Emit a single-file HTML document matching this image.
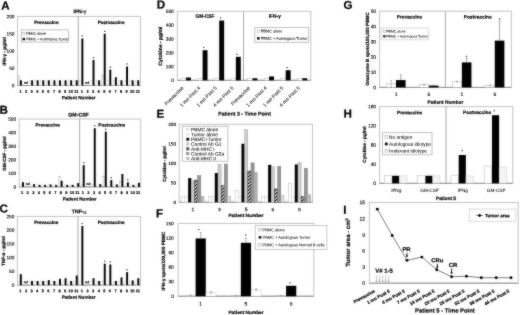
<!DOCTYPE html>
<html lang="en"><head><meta charset="utf-8"><title>Figure</title>
<style>
html,body{margin:0;padding:0;background:#fff;overflow:hidden}
svg{display:block;font-family:"Liberation Sans", sans-serif;text-rendering:geometricPrecision}
</style></head>
<body>
<svg width="520" height="315" viewBox="0 0 520 315">
<defs>
<filter id="soft" x="0" y="0" width="520" height="315" filterUnits="userSpaceOnUse" color-interpolation-filters="sRGB"><feGaussianBlur stdDeviation="0.8" result="b"/><feComposite in="SourceGraphic" in2="b" operator="arithmetic" k1="0" k2="0.62" k3="0.38" k4="0"/></filter>
<pattern id="hat" width="2.4" height="2.4" patternUnits="userSpaceOnUse" patternTransform="rotate(-45)">
<rect width="2.4" height="2.4" fill="#fff"/><rect width="2.4" height="1.2" fill="#000"/></pattern>
<pattern id="vh" width="1.1" height="1.1" patternUnits="userSpaceOnUse">
<rect width="1.1" height="1.1" fill="#e6e6e6"/><rect width="0.45" height="1.1" fill="#9a9a9a"/></pattern>
</defs>
<g filter="url(#soft)">
<rect width="520" height="315" fill="#fff"/>
<text transform="translate(1.2 9.48) rotate(0.03)" font-size="11.6" font-weight="bold" fill="#000" stroke="#000" stroke-width="0.25">A</text>
<rect x="17.5" y="16.4" width="122.9" height="69.1" fill="none" stroke="#c4c4c4" stroke-width="1"/>
<line x1="17.5" y1="85.5" x2="140.4" y2="85.5" stroke="#909090" stroke-width="1"/>
<line x1="78.25" y1="16.4" x2="78.25" y2="85.5" stroke="#a8a8a8" stroke-width="1"/>
<text transform="translate(14.5 87.23) rotate(0.03)" font-size="4.8" text-anchor="end" fill="#000" stroke="#000" stroke-width="0.13">0</text>
<text transform="translate(14.5 69.95) rotate(0.03)" font-size="4.8" text-anchor="end" fill="#000" stroke="#000" stroke-width="0.13">50</text>
<text transform="translate(14.5 52.68) rotate(0.03)" font-size="4.8" text-anchor="end" fill="#000" stroke="#000" stroke-width="0.13">100</text>
<text transform="translate(14.5 35.4) rotate(0.03)" font-size="4.8" text-anchor="end" fill="#000" stroke="#000" stroke-width="0.13">150</text>
<text transform="translate(14.5 18.13) rotate(0.03)" font-size="4.8" text-anchor="end" fill="#000" stroke="#000" stroke-width="0.13">200</text>
<text transform="translate(20.49 92.7) rotate(0.03)" font-size="3.9" text-anchor="middle" font-weight="bold" fill="#000" stroke="#000" stroke-width="0.2">1</text>
<rect x="18.1" y="75.83" width="1.7" height="9.67" fill="#fff" stroke="#b0b0b0" stroke-width="0.5"/>
<rect x="19.93" y="80.32" width="1.95" height="5.18" fill="#000"/>
<text transform="translate(26.08 92.7) rotate(0.03)" font-size="3.9" text-anchor="middle" font-weight="bold" fill="#000" stroke="#000" stroke-width="0.2">2</text>
<text transform="translate(25.83 83.65) rotate(0.03)" font-size="3.2" text-anchor="middle" font-weight="bold" fill="#000" stroke="#000" stroke-width="0.2">nd</text>
<text transform="translate(31.67 92.7) rotate(0.03)" font-size="3.9" text-anchor="middle" font-weight="bold" fill="#000" stroke="#000" stroke-width="0.2">3</text>
<rect x="29.27" y="80.32" width="1.7" height="5.18" fill="#fff" stroke="#d4d4d4" stroke-width="0.4"/>
<rect x="31.1" y="80.32" width="1.95" height="5.18" fill="#000"/>
<text transform="translate(37.25 92.7) rotate(0.03)" font-size="3.9" text-anchor="middle" font-weight="bold" fill="#000" stroke="#000" stroke-width="0.2">4</text>
<rect x="34.86" y="80.32" width="1.7" height="5.18" fill="#fff" stroke="#d4d4d4" stroke-width="0.4"/>
<rect x="36.69" y="80.32" width="1.95" height="5.18" fill="#000"/>
<text transform="translate(42.84 92.7) rotate(0.03)" font-size="3.9" text-anchor="middle" font-weight="bold" fill="#000" stroke="#000" stroke-width="0.2">5</text>
<rect x="40.45" y="80.32" width="1.7" height="5.18" fill="#fff" stroke="#d4d4d4" stroke-width="0.4"/>
<rect x="42.28" y="80.32" width="1.95" height="5.18" fill="#000"/>
<text transform="translate(48.43 92.7) rotate(0.03)" font-size="3.9" text-anchor="middle" font-weight="bold" fill="#000" stroke="#000" stroke-width="0.2">6</text>
<rect x="46.03" y="80.32" width="1.7" height="5.18" fill="#fff" stroke="#d4d4d4" stroke-width="0.4"/>
<rect x="47.86" y="80.32" width="1.95" height="5.18" fill="#000"/>
<text transform="translate(54.01 92.7) rotate(0.03)" font-size="3.9" text-anchor="middle" font-weight="bold" fill="#000" stroke="#000" stroke-width="0.2">7</text>
<rect x="51.62" y="80.32" width="1.7" height="5.18" fill="#fff" stroke="#d4d4d4" stroke-width="0.4"/>
<rect x="53.45" y="80.32" width="1.95" height="5.18" fill="#000"/>
<text transform="translate(59.6 92.7) rotate(0.03)" font-size="3.9" text-anchor="middle" font-weight="bold" fill="#000" stroke="#000" stroke-width="0.2">8</text>
<rect x="57.2" y="80.32" width="1.7" height="5.18" fill="#fff" stroke="#d4d4d4" stroke-width="0.4"/>
<rect x="59.03" y="80.32" width="1.95" height="5.18" fill="#000"/>
<text transform="translate(65.18 92.7) rotate(0.03)" font-size="3.9" text-anchor="middle" font-weight="bold" fill="#000" stroke="#000" stroke-width="0.2">9</text>
<rect x="62.79" y="80.32" width="1.7" height="5.18" fill="#fff" stroke="#d4d4d4" stroke-width="0.4"/>
<rect x="64.62" y="80.32" width="1.95" height="5.18" fill="#000"/>
<text transform="translate(70.77 92.7) rotate(0.03)" font-size="3.9" text-anchor="middle" font-weight="bold" fill="#000" stroke="#000" stroke-width="0.2">10</text>
<rect x="68.38" y="80.32" width="1.7" height="5.18" fill="#fff" stroke="#d4d4d4" stroke-width="0.4"/>
<rect x="70.21" y="80.32" width="1.95" height="5.18" fill="#000"/>
<text transform="translate(76.36 92.7) rotate(0.03)" font-size="3.9" text-anchor="middle" font-weight="bold" fill="#000" stroke="#000" stroke-width="0.2">11</text>
<rect x="73.96" y="80.32" width="1.7" height="5.18" fill="#fff" stroke="#d4d4d4" stroke-width="0.4"/>
<rect x="75.79" y="80.32" width="1.95" height="5.18" fill="#000"/>
<text transform="translate(81.94 92.7) rotate(0.03)" font-size="3.9" text-anchor="middle" font-weight="bold" fill="#000" stroke="#000" stroke-width="0.2">1</text>
<rect x="79.55" y="80.32" width="1.7" height="5.18" fill="#fff" stroke="#d4d4d4" stroke-width="0.4"/>
<rect x="81.38" y="38.51" width="1.95" height="46.99" fill="#000"/>
<text transform="translate(82.35 38.07) rotate(0.03)" font-size="4" text-anchor="middle" fill="#000" stroke="#000" stroke-width="0.05">*</text>
<text transform="translate(87.53 92.7) rotate(0.03)" font-size="3.9" text-anchor="middle" font-weight="bold" fill="#000" stroke="#000" stroke-width="0.2">2</text>
<text transform="translate(87.28 83.65) rotate(0.03)" font-size="3.2" text-anchor="middle" font-weight="bold" fill="#000" stroke="#000" stroke-width="0.2">nd</text>
<text transform="translate(93.12 92.7) rotate(0.03)" font-size="3.9" text-anchor="middle" font-weight="bold" fill="#000" stroke="#000" stroke-width="0.2">3</text>
<rect x="90.72" y="80.32" width="1.7" height="5.18" fill="#fff" stroke="#d4d4d4" stroke-width="0.4"/>
<rect x="92.55" y="59.93" width="1.95" height="25.57" fill="#000"/>
<text transform="translate(93.52 59.49) rotate(0.03)" font-size="4" text-anchor="middle" fill="#000" stroke="#000" stroke-width="0.05">*</text>
<text transform="translate(98.7 92.7) rotate(0.03)" font-size="3.9" text-anchor="middle" font-weight="bold" fill="#000" stroke="#000" stroke-width="0.2">4</text>
<rect x="96.31" y="80.32" width="1.7" height="5.18" fill="#fff" stroke="#d4d4d4" stroke-width="0.4"/>
<rect x="98.14" y="80.32" width="1.95" height="5.18" fill="#000"/>
<text transform="translate(104.29 92.7) rotate(0.03)" font-size="3.9" text-anchor="middle" font-weight="bold" fill="#000" stroke="#000" stroke-width="0.2">5</text>
<rect x="101.9" y="75.14" width="1.7" height="10.36" fill="#fff" stroke="#b0b0b0" stroke-width="0.5"/>
<rect x="103.73" y="33.68" width="1.95" height="51.82" fill="#000"/>
<text transform="translate(104.7 33.23) rotate(0.03)" font-size="4" text-anchor="middle" fill="#000" stroke="#000" stroke-width="0.05">*</text>
<text transform="translate(109.88 92.7) rotate(0.03)" font-size="3.9" text-anchor="middle" font-weight="bold" fill="#000" stroke="#000" stroke-width="0.2">6</text>
<rect x="107.48" y="80.32" width="1.7" height="5.18" fill="#fff" stroke="#d4d4d4" stroke-width="0.4"/>
<rect x="109.31" y="69.61" width="1.95" height="15.89" fill="#000"/>
<text transform="translate(110.28 69.17) rotate(0.03)" font-size="4" text-anchor="middle" fill="#000" stroke="#000" stroke-width="0.05">*</text>
<text transform="translate(115.46 92.7) rotate(0.03)" font-size="3.9" text-anchor="middle" font-weight="bold" fill="#000" stroke="#000" stroke-width="0.2">7</text>
<rect x="113.07" y="80.32" width="1.7" height="5.18" fill="#fff" stroke="#d4d4d4" stroke-width="0.4"/>
<rect x="114.9" y="77.21" width="1.95" height="8.29" fill="#000"/>
<text transform="translate(121.05 92.7) rotate(0.03)" font-size="3.9" text-anchor="middle" font-weight="bold" fill="#000" stroke="#000" stroke-width="0.2">8</text>
<rect x="118.65" y="80.32" width="1.7" height="5.18" fill="#fff" stroke="#d4d4d4" stroke-width="0.4"/>
<rect x="120.48" y="80.32" width="1.95" height="5.18" fill="#000"/>
<text transform="translate(126.63 92.7) rotate(0.03)" font-size="3.9" text-anchor="middle" font-weight="bold" fill="#000" stroke="#000" stroke-width="0.2">9</text>
<rect x="124.24" y="80.32" width="1.7" height="5.18" fill="#fff" stroke="#d4d4d4" stroke-width="0.4"/>
<rect x="126.07" y="66.5" width="1.95" height="19" fill="#000"/>
<text transform="translate(127.04 66.06) rotate(0.03)" font-size="4" text-anchor="middle" fill="#000" stroke="#000" stroke-width="0.05">*</text>
<text transform="translate(132.22 92.7) rotate(0.03)" font-size="3.9" text-anchor="middle" font-weight="bold" fill="#000" stroke="#000" stroke-width="0.2">10</text>
<rect x="129.83" y="80.32" width="1.7" height="5.18" fill="#fff" stroke="#d4d4d4" stroke-width="0.4"/>
<rect x="131.66" y="80.32" width="1.95" height="5.18" fill="#000"/>
<text transform="translate(137.81 92.7) rotate(0.03)" font-size="3.9" text-anchor="middle" font-weight="bold" fill="#000" stroke="#000" stroke-width="0.2">11</text>
<rect x="135.41" y="80.32" width="1.7" height="5.18" fill="#fff" stroke="#d4d4d4" stroke-width="0.4"/>
<rect x="137.24" y="80.32" width="1.95" height="5.18" fill="#000"/>
<text transform="translate(80.05 13.27) rotate(0.03)" font-size="5.2" text-anchor="middle" font-weight="bold" fill="#000" stroke="#000" stroke-width="0.2">IFN-<tspan font-size="6.2" font-weight="normal" stroke-width="0.1">&#947;</tspan></text>
<text transform="translate(46.33 23.96) rotate(0.03)" font-size="4.6" text-anchor="middle" font-weight="bold" fill="#000" stroke="#000" stroke-width="0.2">Prevaccine</text>
<text transform="translate(111.08 23.96) rotate(0.03)" font-size="4.6" text-anchor="middle" font-weight="bold" fill="#000" stroke="#000" stroke-width="0.2">Postvaccine</text>
<text transform="translate(78.65 99.16) rotate(0.03)" font-size="4.6" text-anchor="middle" font-weight="bold" fill="#000" stroke="#000" stroke-width="0.2">Patient Number</text>
<text transform="translate(4.4 51.4) rotate(-90)" y="1.69" font-size="4.7" text-anchor="middle" font-weight="bold" fill="#000" stroke="#000" stroke-width="0.2">IFN-&#947; - pg/ml</text>
<rect x="21.2" y="29.9" width="47.4" height="12.2" fill="#fff" stroke="#a8a8a8" stroke-width="0.7"/>
<rect x="22.6" y="32.3" width="2.3" height="2.3" fill="#fff" stroke="#999" stroke-width="0.4"/>
<rect x="22.6" y="37.9" width="2.4" height="2.4" fill="#000"/>
<text transform="translate(26.2 34.76) rotate(0.03)" font-size="3.5" fill="#000" stroke="#000" stroke-width="0.05">PBMC alone</text>
<text transform="translate(26.2 40.36) rotate(0.03)" font-size="3.5" fill="#000" stroke="#000" stroke-width="0.05">PBMC + Autologous Tumor</text>
<text transform="translate(-0.5 113.68) rotate(0.03)" font-size="11.6" font-weight="bold" fill="#000" stroke="#000" stroke-width="0.25">B</text>
<rect x="19.2" y="119" width="121.5" height="67.9" fill="none" stroke="#c4c4c4" stroke-width="1"/>
<line x1="19.2" y1="186.9" x2="140.7" y2="186.9" stroke="#909090" stroke-width="1"/>
<line x1="79.65" y1="119" x2="79.65" y2="186.9" stroke="#a8a8a8" stroke-width="1"/>
<text transform="translate(16.2 188.63) rotate(0.03)" font-size="4.8" text-anchor="end" fill="#000" stroke="#000" stroke-width="0.13">0</text>
<text transform="translate(16.2 175.05) rotate(0.03)" font-size="4.8" text-anchor="end" fill="#000" stroke="#000" stroke-width="0.13">100</text>
<text transform="translate(16.2 161.47) rotate(0.03)" font-size="4.8" text-anchor="end" fill="#000" stroke="#000" stroke-width="0.13">200</text>
<text transform="translate(16.2 147.89) rotate(0.03)" font-size="4.8" text-anchor="end" fill="#000" stroke="#000" stroke-width="0.13">300</text>
<text transform="translate(16.2 134.31) rotate(0.03)" font-size="4.8" text-anchor="end" fill="#000" stroke="#000" stroke-width="0.13">400</text>
<text transform="translate(16.2 120.73) rotate(0.03)" font-size="4.8" text-anchor="end" fill="#000" stroke="#000" stroke-width="0.13">500</text>
<text transform="translate(22.16 194.1) rotate(0.03)" font-size="3.9" text-anchor="middle" font-weight="bold" fill="#000" stroke="#000" stroke-width="0.2">1</text>
<rect x="20.15" y="184.86" width="1.7" height="2.04" fill="#fff" stroke="#d4d4d4" stroke-width="0.4"/>
<rect x="21.98" y="182.15" width="1.95" height="4.75" fill="#000"/>
<text transform="translate(27.68 194.1) rotate(0.03)" font-size="3.9" text-anchor="middle" font-weight="bold" fill="#000" stroke="#000" stroke-width="0.2">2</text>
<text transform="translate(27.78 185.05) rotate(0.03)" font-size="3.2" text-anchor="middle" font-weight="bold" fill="#000" stroke="#000" stroke-width="0.2">nd</text>
<text transform="translate(33.21 194.1) rotate(0.03)" font-size="3.9" text-anchor="middle" font-weight="bold" fill="#000" stroke="#000" stroke-width="0.2">3</text>
<rect x="31.2" y="184.86" width="1.7" height="2.04" fill="#fff" stroke="#d4d4d4" stroke-width="0.4"/>
<rect x="33.03" y="184.18" width="1.95" height="2.72" fill="#000"/>
<text transform="translate(38.73 194.1) rotate(0.03)" font-size="3.9" text-anchor="middle" font-weight="bold" fill="#000" stroke="#000" stroke-width="0.2">4</text>
<rect x="36.72" y="184.86" width="1.7" height="2.04" fill="#fff" stroke="#d4d4d4" stroke-width="0.4"/>
<rect x="38.55" y="184.86" width="1.95" height="2.04" fill="#000"/>
<text transform="translate(44.25 194.1) rotate(0.03)" font-size="3.9" text-anchor="middle" font-weight="bold" fill="#000" stroke="#000" stroke-width="0.2">5</text>
<rect x="42.24" y="184.86" width="1.7" height="2.04" fill="#fff" stroke="#d4d4d4" stroke-width="0.4"/>
<rect x="44.07" y="184.86" width="1.95" height="2.04" fill="#000"/>
<text transform="translate(49.77 194.1) rotate(0.03)" font-size="3.9" text-anchor="middle" font-weight="bold" fill="#000" stroke="#000" stroke-width="0.2">6</text>
<rect x="47.76" y="184.86" width="1.7" height="2.04" fill="#fff" stroke="#d4d4d4" stroke-width="0.4"/>
<rect x="49.59" y="184.46" width="1.95" height="2.44" fill="#000"/>
<text transform="translate(55.3 194.1) rotate(0.03)" font-size="3.9" text-anchor="middle" font-weight="bold" fill="#000" stroke="#000" stroke-width="0.2">7</text>
<rect x="53.29" y="184.86" width="1.7" height="2.04" fill="#fff" stroke="#d4d4d4" stroke-width="0.4"/>
<rect x="55.12" y="184.86" width="1.95" height="2.04" fill="#000"/>
<text transform="translate(60.82 194.1) rotate(0.03)" font-size="3.9" text-anchor="middle" font-weight="bold" fill="#000" stroke="#000" stroke-width="0.2">8</text>
<rect x="58.81" y="176.72" width="1.7" height="10.19" fill="#fff" stroke="#b0b0b0" stroke-width="0.5"/>
<rect x="60.64" y="180.79" width="1.95" height="6.11" fill="#000"/>
<text transform="translate(66.34 194.1) rotate(0.03)" font-size="3.9" text-anchor="middle" font-weight="bold" fill="#000" stroke="#000" stroke-width="0.2">9</text>
<rect x="64.33" y="184.86" width="1.7" height="2.04" fill="#fff" stroke="#d4d4d4" stroke-width="0.4"/>
<rect x="66.16" y="184.86" width="1.95" height="2.04" fill="#000"/>
<text transform="translate(71.87 194.1) rotate(0.03)" font-size="3.9" text-anchor="middle" font-weight="bold" fill="#000" stroke="#000" stroke-width="0.2">10</text>
<rect x="69.85" y="184.86" width="1.7" height="2.04" fill="#fff" stroke="#d4d4d4" stroke-width="0.4"/>
<rect x="71.68" y="184.86" width="1.95" height="2.04" fill="#000"/>
<text transform="translate(77.39 194.1) rotate(0.03)" font-size="3.9" text-anchor="middle" font-weight="bold" fill="#000" stroke="#000" stroke-width="0.2">11</text>
<rect x="75.38" y="184.86" width="1.7" height="2.04" fill="#fff" stroke="#d4d4d4" stroke-width="0.4"/>
<rect x="77.21" y="183.1" width="1.95" height="3.8" fill="#000"/>
<text transform="translate(82.91 194.1) rotate(0.03)" font-size="3.9" text-anchor="middle" font-weight="bold" fill="#000" stroke="#000" stroke-width="0.2">1</text>
<rect x="80.9" y="184.86" width="1.7" height="2.04" fill="#fff" stroke="#d4d4d4" stroke-width="0.4"/>
<rect x="82.73" y="165.17" width="1.95" height="21.73" fill="#000"/>
<text transform="translate(83.7 164.73) rotate(0.03)" font-size="4" text-anchor="middle" fill="#000" stroke="#000" stroke-width="0.05">*</text>
<text transform="translate(88.43 194.1) rotate(0.03)" font-size="3.9" text-anchor="middle" font-weight="bold" fill="#000" stroke="#000" stroke-width="0.2">2</text>
<text transform="translate(88.53 185.05) rotate(0.03)" font-size="3.2" text-anchor="middle" font-weight="bold" fill="#000" stroke="#000" stroke-width="0.2">nd</text>
<text transform="translate(93.96 194.1) rotate(0.03)" font-size="3.9" text-anchor="middle" font-weight="bold" fill="#000" stroke="#000" stroke-width="0.2">3</text>
<rect x="91.95" y="184.86" width="1.7" height="2.04" fill="#fff" stroke="#d4d4d4" stroke-width="0.4"/>
<rect x="93.78" y="128.23" width="1.95" height="58.67" fill="#000"/>
<text transform="translate(94.75 127.79) rotate(0.03)" font-size="4" text-anchor="middle" fill="#000" stroke="#000" stroke-width="0.05">*</text>
<text transform="translate(99.48 194.1) rotate(0.03)" font-size="3.9" text-anchor="middle" font-weight="bold" fill="#000" stroke="#000" stroke-width="0.2">4</text>
<rect x="97.47" y="184.86" width="1.7" height="2.04" fill="#fff" stroke="#d4d4d4" stroke-width="0.4"/>
<rect x="99.3" y="184.18" width="1.95" height="2.72" fill="#000"/>
<text transform="translate(105 194.1) rotate(0.03)" font-size="3.9" text-anchor="middle" font-weight="bold" fill="#000" stroke="#000" stroke-width="0.2">5</text>
<rect x="102.99" y="176.04" width="1.7" height="10.86" fill="#fff" stroke="#b0b0b0" stroke-width="0.5"/>
<rect x="104.82" y="131.63" width="1.95" height="55.27" fill="#000"/>
<text transform="translate(105.79 131.19) rotate(0.03)" font-size="4" text-anchor="middle" fill="#000" stroke="#000" stroke-width="0.05">*</text>
<text transform="translate(110.53 194.1) rotate(0.03)" font-size="3.9" text-anchor="middle" font-weight="bold" fill="#000" stroke="#000" stroke-width="0.2">6</text>
<rect x="108.51" y="184.86" width="1.7" height="2.04" fill="#fff" stroke="#d4d4d4" stroke-width="0.4"/>
<rect x="110.34" y="180.11" width="1.95" height="6.79" fill="#000"/>
<text transform="translate(111.31 179.67) rotate(0.03)" font-size="4" text-anchor="middle" fill="#000" stroke="#000" stroke-width="0.05">*</text>
<text transform="translate(116.05 194.1) rotate(0.03)" font-size="3.9" text-anchor="middle" font-weight="bold" fill="#000" stroke="#000" stroke-width="0.2">7</text>
<rect x="114.04" y="184.86" width="1.7" height="2.04" fill="#fff" stroke="#d4d4d4" stroke-width="0.4"/>
<rect x="115.87" y="184.46" width="1.95" height="2.44" fill="#000"/>
<text transform="translate(121.57 194.1) rotate(0.03)" font-size="3.9" text-anchor="middle" font-weight="bold" fill="#000" stroke="#000" stroke-width="0.2">8</text>
<rect x="119.56" y="181.47" width="1.7" height="5.43" fill="#fff" stroke="#b0b0b0" stroke-width="0.5"/>
<rect x="121.39" y="174" width="1.95" height="12.9" fill="#000"/>
<text transform="translate(127.09 194.1) rotate(0.03)" font-size="3.9" text-anchor="middle" font-weight="bold" fill="#000" stroke="#000" stroke-width="0.2">9</text>
<rect x="125.08" y="184.86" width="1.7" height="2.04" fill="#fff" stroke="#d4d4d4" stroke-width="0.4"/>
<rect x="126.91" y="182.28" width="1.95" height="4.62" fill="#000"/>
<text transform="translate(127.88 181.84) rotate(0.03)" font-size="4" text-anchor="middle" fill="#000" stroke="#000" stroke-width="0.05">*</text>
<text transform="translate(132.62 194.1) rotate(0.03)" font-size="3.9" text-anchor="middle" font-weight="bold" fill="#000" stroke="#000" stroke-width="0.2">10</text>
<rect x="130.6" y="184.86" width="1.7" height="2.04" fill="#fff" stroke="#d4d4d4" stroke-width="0.4"/>
<rect x="132.43" y="184.86" width="1.95" height="2.04" fill="#000"/>
<text transform="translate(138.14 194.1) rotate(0.03)" font-size="3.9" text-anchor="middle" font-weight="bold" fill="#000" stroke="#000" stroke-width="0.2">11</text>
<rect x="136.13" y="184.86" width="1.7" height="2.04" fill="#fff" stroke="#d4d4d4" stroke-width="0.4"/>
<rect x="137.96" y="182.83" width="1.95" height="4.07" fill="#000"/>
<text transform="translate(78.55 116.47) rotate(0.03)" font-size="5.2" text-anchor="middle" font-weight="bold" fill="#000" stroke="#000" stroke-width="0.2">GM-CSF</text>
<text transform="translate(47.67 126.56) rotate(0.03)" font-size="4.6" text-anchor="middle" font-weight="bold" fill="#000" stroke="#000" stroke-width="0.2">Prevaccine</text>
<text transform="translate(111.72 126.56) rotate(0.03)" font-size="4.6" text-anchor="middle" font-weight="bold" fill="#000" stroke="#000" stroke-width="0.2">Postvaccine</text>
<text transform="translate(79.65 200.56) rotate(0.03)" font-size="4.6" text-anchor="middle" font-weight="bold" fill="#000" stroke="#000" stroke-width="0.2">Patient Number</text>
<text transform="translate(4.6 153.6) rotate(-90)" y="1.64" font-size="4.55" text-anchor="middle" font-weight="bold" fill="#000" stroke="#000" stroke-width="0.2">GM-CSF - pg/ml</text>
<text transform="translate(-0.4 212.38) rotate(0.03)" font-size="11.6" font-weight="bold" fill="#000" stroke="#000" stroke-width="0.25">C</text>
<rect x="17.4" y="216.4" width="123.1" height="68.7" fill="none" stroke="#c4c4c4" stroke-width="1"/>
<line x1="17.4" y1="285.1" x2="140.5" y2="285.1" stroke="#909090" stroke-width="1"/>
<line x1="77.95" y1="216.4" x2="77.95" y2="285.1" stroke="#a8a8a8" stroke-width="1"/>
<text transform="translate(14.4 286.83) rotate(0.03)" font-size="4.8" text-anchor="end" fill="#000" stroke="#000" stroke-width="0.13">0</text>
<text transform="translate(14.4 273.09) rotate(0.03)" font-size="4.8" text-anchor="end" fill="#000" stroke="#000" stroke-width="0.13">50</text>
<text transform="translate(14.4 259.35) rotate(0.03)" font-size="4.8" text-anchor="end" fill="#000" stroke="#000" stroke-width="0.13">100</text>
<text transform="translate(14.4 245.61) rotate(0.03)" font-size="4.8" text-anchor="end" fill="#000" stroke="#000" stroke-width="0.13">150</text>
<text transform="translate(14.4 231.87) rotate(0.03)" font-size="4.8" text-anchor="end" fill="#000" stroke="#000" stroke-width="0.13">200</text>
<text transform="translate(14.4 218.13) rotate(0.03)" font-size="4.8" text-anchor="end" fill="#000" stroke="#000" stroke-width="0.13">250</text>
<text transform="translate(20.4 292.3) rotate(0.03)" font-size="3.9" text-anchor="middle" font-weight="bold" fill="#000" stroke="#000" stroke-width="0.2">1</text>
<rect x="18" y="280.98" width="1.7" height="4.12" fill="#fff" stroke="#d4d4d4" stroke-width="0.4"/>
<rect x="19.83" y="274.11" width="1.95" height="10.99" fill="#000"/>
<text transform="translate(25.99 292.3) rotate(0.03)" font-size="3.9" text-anchor="middle" font-weight="bold" fill="#000" stroke="#000" stroke-width="0.2">2</text>
<text transform="translate(25.74 283.25) rotate(0.03)" font-size="3.2" text-anchor="middle" font-weight="bold" fill="#000" stroke="#000" stroke-width="0.2">nd</text>
<text transform="translate(31.59 292.3) rotate(0.03)" font-size="3.9" text-anchor="middle" font-weight="bold" fill="#000" stroke="#000" stroke-width="0.2">3</text>
<rect x="29.19" y="280.98" width="1.7" height="4.12" fill="#fff" stroke="#d4d4d4" stroke-width="0.4"/>
<rect x="31.02" y="280.98" width="1.95" height="4.12" fill="#000"/>
<text transform="translate(37.18 292.3) rotate(0.03)" font-size="3.9" text-anchor="middle" font-weight="bold" fill="#000" stroke="#000" stroke-width="0.2">4</text>
<rect x="34.79" y="280.98" width="1.7" height="4.12" fill="#fff" stroke="#d4d4d4" stroke-width="0.4"/>
<rect x="36.62" y="280.98" width="1.95" height="4.12" fill="#000"/>
<text transform="translate(42.78 292.3) rotate(0.03)" font-size="3.9" text-anchor="middle" font-weight="bold" fill="#000" stroke="#000" stroke-width="0.2">5</text>
<rect x="40.38" y="280.98" width="1.7" height="4.12" fill="#fff" stroke="#d4d4d4" stroke-width="0.4"/>
<rect x="42.21" y="280.98" width="1.95" height="4.12" fill="#000"/>
<text transform="translate(48.38 292.3) rotate(0.03)" font-size="3.9" text-anchor="middle" font-weight="bold" fill="#000" stroke="#000" stroke-width="0.2">6</text>
<rect x="45.98" y="280.98" width="1.7" height="4.12" fill="#fff" stroke="#d4d4d4" stroke-width="0.4"/>
<rect x="47.81" y="280.15" width="1.95" height="4.95" fill="#000"/>
<text transform="translate(53.97 292.3) rotate(0.03)" font-size="3.9" text-anchor="middle" font-weight="bold" fill="#000" stroke="#000" stroke-width="0.2">7</text>
<rect x="51.57" y="280.98" width="1.7" height="4.12" fill="#fff" stroke="#d4d4d4" stroke-width="0.4"/>
<rect x="53.4" y="280.98" width="1.95" height="4.12" fill="#000"/>
<text transform="translate(59.57 292.3) rotate(0.03)" font-size="3.9" text-anchor="middle" font-weight="bold" fill="#000" stroke="#000" stroke-width="0.2">8</text>
<rect x="57.17" y="280.98" width="1.7" height="4.12" fill="#fff" stroke="#d4d4d4" stroke-width="0.4"/>
<rect x="59" y="278.78" width="1.95" height="6.32" fill="#000"/>
<text transform="translate(65.16 292.3) rotate(0.03)" font-size="3.9" text-anchor="middle" font-weight="bold" fill="#000" stroke="#000" stroke-width="0.2">9</text>
<rect x="62.76" y="280.98" width="1.7" height="4.12" fill="#fff" stroke="#d4d4d4" stroke-width="0.4"/>
<rect x="64.59" y="278.23" width="1.95" height="6.87" fill="#000"/>
<text transform="translate(70.76 292.3) rotate(0.03)" font-size="3.9" text-anchor="middle" font-weight="bold" fill="#000" stroke="#000" stroke-width="0.2">10</text>
<rect x="68.36" y="280.98" width="1.7" height="4.12" fill="#fff" stroke="#d4d4d4" stroke-width="0.4"/>
<rect x="70.19" y="280.98" width="1.95" height="4.12" fill="#000"/>
<text transform="translate(76.35 292.3) rotate(0.03)" font-size="3.9" text-anchor="middle" font-weight="bold" fill="#000" stroke="#000" stroke-width="0.2">11</text>
<rect x="73.95" y="280.98" width="1.7" height="4.12" fill="#fff" stroke="#d4d4d4" stroke-width="0.4"/>
<rect x="75.78" y="275.48" width="1.95" height="9.62" fill="#000"/>
<text transform="translate(81.95 292.3) rotate(0.03)" font-size="3.9" text-anchor="middle" font-weight="bold" fill="#000" stroke="#000" stroke-width="0.2">1</text>
<rect x="79.55" y="280.98" width="1.7" height="4.12" fill="#fff" stroke="#d4d4d4" stroke-width="0.4"/>
<rect x="81.38" y="226.02" width="1.95" height="59.08" fill="#000"/>
<text transform="translate(82.35 225.58) rotate(0.03)" font-size="4" text-anchor="middle" fill="#000" stroke="#000" stroke-width="0.05">*</text>
<text transform="translate(87.54 292.3) rotate(0.03)" font-size="3.9" text-anchor="middle" font-weight="bold" fill="#000" stroke="#000" stroke-width="0.2">2</text>
<text transform="translate(87.29 283.25) rotate(0.03)" font-size="3.2" text-anchor="middle" font-weight="bold" fill="#000" stroke="#000" stroke-width="0.2">nd</text>
<text transform="translate(93.14 292.3) rotate(0.03)" font-size="3.9" text-anchor="middle" font-weight="bold" fill="#000" stroke="#000" stroke-width="0.2">3</text>
<rect x="90.74" y="280.98" width="1.7" height="4.12" fill="#fff" stroke="#d4d4d4" stroke-width="0.4"/>
<rect x="92.57" y="278.23" width="1.95" height="6.87" fill="#000"/>
<text transform="translate(98.73 292.3) rotate(0.03)" font-size="3.9" text-anchor="middle" font-weight="bold" fill="#000" stroke="#000" stroke-width="0.2">4</text>
<rect x="96.34" y="280.98" width="1.7" height="4.12" fill="#fff" stroke="#d4d4d4" stroke-width="0.4"/>
<rect x="98.17" y="280.98" width="1.95" height="4.12" fill="#000"/>
<text transform="translate(104.33 292.3) rotate(0.03)" font-size="3.9" text-anchor="middle" font-weight="bold" fill="#000" stroke="#000" stroke-width="0.2">5</text>
<rect x="101.93" y="280.98" width="1.7" height="4.12" fill="#fff" stroke="#d4d4d4" stroke-width="0.4"/>
<rect x="103.76" y="263.67" width="1.95" height="21.43" fill="#000"/>
<text transform="translate(104.73 263.23) rotate(0.03)" font-size="4" text-anchor="middle" fill="#000" stroke="#000" stroke-width="0.05">*</text>
<text transform="translate(109.92 292.3) rotate(0.03)" font-size="3.9" text-anchor="middle" font-weight="bold" fill="#000" stroke="#000" stroke-width="0.2">6</text>
<rect x="107.53" y="280.98" width="1.7" height="4.12" fill="#fff" stroke="#d4d4d4" stroke-width="0.4"/>
<rect x="109.36" y="264.49" width="1.95" height="20.61" fill="#000"/>
<text transform="translate(110.33 264.05) rotate(0.03)" font-size="4" text-anchor="middle" fill="#000" stroke="#000" stroke-width="0.05">*</text>
<text transform="translate(115.52 292.3) rotate(0.03)" font-size="3.9" text-anchor="middle" font-weight="bold" fill="#000" stroke="#000" stroke-width="0.2">7</text>
<rect x="113.12" y="280.98" width="1.7" height="4.12" fill="#fff" stroke="#d4d4d4" stroke-width="0.4"/>
<rect x="114.95" y="280.98" width="1.95" height="4.12" fill="#000"/>
<text transform="translate(121.12 292.3) rotate(0.03)" font-size="3.9" text-anchor="middle" font-weight="bold" fill="#000" stroke="#000" stroke-width="0.2">8</text>
<rect x="118.72" y="280.98" width="1.7" height="4.12" fill="#fff" stroke="#d4d4d4" stroke-width="0.4"/>
<rect x="120.55" y="277.41" width="1.95" height="7.69" fill="#000"/>
<text transform="translate(126.71 292.3) rotate(0.03)" font-size="3.9" text-anchor="middle" font-weight="bold" fill="#000" stroke="#000" stroke-width="0.2">9</text>
<rect x="124.31" y="280.98" width="1.7" height="4.12" fill="#fff" stroke="#d4d4d4" stroke-width="0.4"/>
<rect x="126.14" y="272.18" width="1.95" height="12.92" fill="#000"/>
<text transform="translate(127.11 271.74) rotate(0.03)" font-size="4" text-anchor="middle" fill="#000" stroke="#000" stroke-width="0.05">*</text>
<text transform="translate(132.31 292.3) rotate(0.03)" font-size="3.9" text-anchor="middle" font-weight="bold" fill="#000" stroke="#000" stroke-width="0.2">10</text>
<rect x="129.91" y="280.98" width="1.7" height="4.12" fill="#fff" stroke="#d4d4d4" stroke-width="0.4"/>
<rect x="131.74" y="280.43" width="1.95" height="4.67" fill="#000"/>
<text transform="translate(137.9 292.3) rotate(0.03)" font-size="3.9" text-anchor="middle" font-weight="bold" fill="#000" stroke="#000" stroke-width="0.2">11</text>
<rect x="135.5" y="280.98" width="1.7" height="4.12" fill="#fff" stroke="#d4d4d4" stroke-width="0.4"/>
<rect x="137.33" y="278.23" width="1.95" height="6.87" fill="#000"/>
<text transform="translate(79.15 213.27) rotate(0.03)" font-size="5.2" text-anchor="middle" font-weight="bold" fill="#000" stroke="#000" stroke-width="0.2">TNF-<tspan font-size="5.2" font-weight="normal" stroke-width="0.1" dy="0.6">&#945;</tspan></text>
<text transform="translate(46.27 223.96) rotate(0.03)" font-size="4.6" text-anchor="middle" font-weight="bold" fill="#000" stroke="#000" stroke-width="0.2">Prevaccine</text>
<text transform="translate(111.12 223.96) rotate(0.03)" font-size="4.6" text-anchor="middle" font-weight="bold" fill="#000" stroke="#000" stroke-width="0.2">Postvaccine</text>
<text transform="translate(78.65 298.76) rotate(0.03)" font-size="4.6" text-anchor="middle" font-weight="bold" fill="#000" stroke="#000" stroke-width="0.2">Patient Number</text>
<text transform="translate(3.6 251.1) rotate(-90)" y="1.66" font-size="4.6" text-anchor="middle" font-weight="bold" fill="#000" stroke="#000" stroke-width="0.2">TNF-&#945; - pg/ml</text>
<text transform="translate(156.7 8.48) rotate(0.03)" font-size="11.6" font-weight="bold" fill="#000" stroke="#000" stroke-width="0.25">D</text>
<rect x="177.4" y="11.3" width="133.4" height="69" fill="none" stroke="#c4c4c4" stroke-width="1"/>
<line x1="177.4" y1="80.3" x2="310.8" y2="80.3" stroke="#909090" stroke-width="1"/>
<line x1="243.5" y1="11.3" x2="243.5" y2="80.3" stroke="#a8a8a8" stroke-width="1"/>
<text transform="translate(173.8 82.03) rotate(0.03)" font-size="4.8" text-anchor="end" fill="#000" stroke="#000" stroke-width="0.13">0</text>
<text transform="translate(173.8 68.23) rotate(0.03)" font-size="4.8" text-anchor="end" fill="#000" stroke="#000" stroke-width="0.13">100</text>
<text transform="translate(173.8 54.43) rotate(0.03)" font-size="4.8" text-anchor="end" fill="#000" stroke="#000" stroke-width="0.13">200</text>
<text transform="translate(173.8 40.63) rotate(0.03)" font-size="4.8" text-anchor="end" fill="#000" stroke="#000" stroke-width="0.13">300</text>
<text transform="translate(173.8 26.83) rotate(0.03)" font-size="4.8" text-anchor="end" fill="#000" stroke="#000" stroke-width="0.13">400</text>
<text transform="translate(173.8 13.03) rotate(0.03)" font-size="4.8" text-anchor="end" fill="#000" stroke="#000" stroke-width="0.13">500</text>
<rect x="181.2" y="78.23" width="4.8" height="2.07" fill="#fff" stroke="#b0b0b0" stroke-width="0.5"/>
<rect x="186" y="77.54" width="4.9" height="2.76" fill="#000"/>
<text transform="translate(182.8 87.1) rotate(-45)" y="1.8" font-size="5" text-anchor="end" fill="#000" stroke="#000" stroke-width="0.05">Prevaccine</text>
<rect x="197.82" y="78.23" width="4.8" height="2.07" fill="#fff" stroke="#b0b0b0" stroke-width="0.5"/>
<rect x="202.62" y="50.22" width="4.9" height="30.08" fill="#000"/>
<text transform="translate(203.82 49.58) rotate(0.03)" font-size="4" text-anchor="middle" fill="#000" stroke="#000" stroke-width="0.05">*</text>
<text transform="translate(199.42 87.1) rotate(-45)" y="1.8" font-size="5" text-anchor="end" fill="#000" stroke="#000" stroke-width="0.05">1 mo Post 4</text>
<rect x="214.44" y="78.23" width="4.8" height="2.07" fill="#fff" stroke="#b0b0b0" stroke-width="0.5"/>
<rect x="219.24" y="20.55" width="4.9" height="59.75" fill="#000"/>
<text transform="translate(220.44 19.91) rotate(0.03)" font-size="4" text-anchor="middle" fill="#000" stroke="#000" stroke-width="0.05">*</text>
<text transform="translate(216.04 87.1) rotate(-45)" y="1.8" font-size="5" text-anchor="end" fill="#000" stroke="#000" stroke-width="0.05">1 mo Post 5</text>
<rect x="231.06" y="78.23" width="4.8" height="2.07" fill="#fff" stroke="#b0b0b0" stroke-width="0.5"/>
<rect x="235.86" y="56.84" width="4.9" height="23.46" fill="#000"/>
<text transform="translate(237.06 56.2) rotate(0.03)" font-size="4" text-anchor="middle" fill="#000" stroke="#000" stroke-width="0.05">*</text>
<text transform="translate(232.66 87.1) rotate(-45)" y="1.8" font-size="5" text-anchor="end" fill="#000" stroke="#000" stroke-width="0.05">4 mo Post 5</text>
<rect x="247.68" y="78.23" width="4.8" height="2.07" fill="#fff" stroke="#b0b0b0" stroke-width="0.5"/>
<rect x="252.48" y="78.23" width="4.9" height="2.07" fill="#000"/>
<text transform="translate(249.28 87.1) rotate(-45)" y="1.8" font-size="5" text-anchor="end" fill="#000" stroke="#000" stroke-width="0.05">Prevaccine</text>
<rect x="264.3" y="78.23" width="4.8" height="2.07" fill="#fff" stroke="#b0b0b0" stroke-width="0.5"/>
<rect x="269.1" y="76.44" width="4.9" height="3.86" fill="#000"/>
<text transform="translate(265.9 87.1) rotate(-45)" y="1.8" font-size="5" text-anchor="end" fill="#000" stroke="#000" stroke-width="0.05">1 mo Post 4</text>
<rect x="280.92" y="78.23" width="4.8" height="2.07" fill="#fff" stroke="#b0b0b0" stroke-width="0.5"/>
<rect x="285.72" y="70.23" width="4.9" height="10.07" fill="#000"/>
<text transform="translate(286.92 69.59) rotate(0.03)" font-size="4" text-anchor="middle" fill="#000" stroke="#000" stroke-width="0.05">*</text>
<text transform="translate(282.52 87.1) rotate(-45)" y="1.8" font-size="5" text-anchor="end" fill="#000" stroke="#000" stroke-width="0.05">1 mo Post 5</text>
<rect x="297.54" y="78.23" width="4.8" height="2.07" fill="#fff" stroke="#b0b0b0" stroke-width="0.5"/>
<rect x="302.34" y="78.23" width="4.9" height="2.07" fill="#000"/>
<text transform="translate(299.14 87.1) rotate(-45)" y="1.8" font-size="5" text-anchor="end" fill="#000" stroke="#000" stroke-width="0.05">4 mo Post 5</text>
<text transform="translate(205 17.63) rotate(0.03)" font-size="4.8" text-anchor="middle" font-weight="bold" fill="#000" stroke="#000" stroke-width="0.2">GM-CSF</text>
<text transform="translate(274.8 17.63) rotate(0.03)" font-size="4.8" text-anchor="middle" font-weight="bold" fill="#000" stroke="#000" stroke-width="0.2">IFN-<tspan font-size="5.2">&#947;</tspan></text>
<text transform="translate(160 46.2) rotate(-90)" y="1.8" font-size="5" text-anchor="middle" font-weight="bold" fill="#000" stroke="#000" stroke-width="0.2">Cytokine - pg/ml</text>
<text transform="translate(244.6 115.47) rotate(0.03)" font-size="5.2" text-anchor="middle" font-weight="bold" fill="#000" stroke="#000" stroke-width="0.2">Patient 3 - Time Point</text>
<rect x="254.8" y="27.5" width="53.9" height="14.8" fill="#fff" stroke="#a8a8a8" stroke-width="0.7"/>
<rect x="257.1" y="30" width="2.4" height="2.4" fill="#fff" stroke="#888" stroke-width="0.4"/>
<rect x="257.1" y="37.1" width="2.5" height="2.5" fill="#000"/>
<text transform="translate(260.8 32.59) rotate(0.03)" font-size="3.85" fill="#000" stroke="#000" stroke-width="0.05">PBMC alone</text>
<text transform="translate(260.8 39.79) rotate(0.03)" font-size="3.85" fill="#000" stroke="#000" stroke-width="0.05">PBMC + Autologous Tumor</text>
<text transform="translate(156.6 117.78) rotate(0.03)" font-size="11.6" font-weight="bold" fill="#000" stroke="#000" stroke-width="0.25">E</text>
<rect x="179.2" y="124.3" width="133.3" height="77.9" fill="none" stroke="#c4c4c4" stroke-width="1"/>
<line x1="179.2" y1="202.2" x2="312.5" y2="202.2" stroke="#909090" stroke-width="1"/>
<text transform="translate(176 203.89) rotate(0.03)" font-size="4.7" text-anchor="end" fill="#000" stroke="#000" stroke-width="0.13">0</text>
<text transform="translate(176 184.42) rotate(0.03)" font-size="4.7" text-anchor="end" fill="#000" stroke="#000" stroke-width="0.13">50</text>
<text transform="translate(176 164.94) rotate(0.03)" font-size="4.7" text-anchor="end" fill="#000" stroke="#000" stroke-width="0.13">100</text>
<text transform="translate(176 145.47) rotate(0.03)" font-size="4.7" text-anchor="end" fill="#000" stroke="#000" stroke-width="0.13">150</text>
<text transform="translate(176 125.99) rotate(0.03)" font-size="4.7" text-anchor="end" fill="#000" stroke="#000" stroke-width="0.13">200</text>
<rect x="181.8" y="196.36" width="3.17" height="5.84" fill="#fff" stroke="#b0b0b0" stroke-width="0.45"/>
<rect x="184.97" y="196.36" width="3.17" height="5.84" fill="#fff" stroke="#c8c8c8" stroke-width="0.45"/>
<rect x="188.14" y="178.05" width="3.17" height="24.15" fill="#000"/>
<rect x="191.31" y="180.78" width="3.17" height="21.42" fill="#cccccc" stroke="#a0a0a0" stroke-width="0.45"/>
<rect x="194.48" y="180" width="3.17" height="22.2" fill="url(#hat)" stroke="#222" stroke-width="0.45"/>
<rect x="197.65" y="175.71" width="3.17" height="26.49" fill="#929292" stroke="#777" stroke-width="0.45"/>
<rect x="200.82" y="196.36" width="3.17" height="5.84" fill="url(#vh)" stroke="#999" stroke-width="0.45"/>
<text transform="translate(192.83 211.2) rotate(0.03)" font-size="5" text-anchor="middle" fill="#000" stroke="#000" stroke-width="0.13">1</text>
<rect x="208.46" y="196.36" width="3.17" height="5.84" fill="#fff" stroke="#b0b0b0" stroke-width="0.45"/>
<rect x="211.63" y="196.36" width="3.17" height="5.84" fill="#fff" stroke="#c8c8c8" stroke-width="0.45"/>
<rect x="214.8" y="172.99" width="3.17" height="29.21" fill="#000"/>
<rect x="217.97" y="164.42" width="3.17" height="37.78" fill="#cccccc" stroke="#a0a0a0" stroke-width="0.45"/>
<rect x="221.14" y="185.45" width="3.17" height="16.75" fill="url(#hat)" stroke="#222" stroke-width="0.45"/>
<rect x="224.31" y="164.03" width="3.17" height="38.17" fill="#929292" stroke="#777" stroke-width="0.45"/>
<rect x="227.48" y="196.36" width="3.17" height="5.84" fill="url(#vh)" stroke="#999" stroke-width="0.45"/>
<text transform="translate(219.49 211.2) rotate(0.03)" font-size="5" text-anchor="middle" fill="#000" stroke="#000" stroke-width="0.13">3</text>
<rect x="235.12" y="190.51" width="3.17" height="11.68" fill="#fff" stroke="#b0b0b0" stroke-width="0.45"/>
<rect x="238.29" y="196.36" width="3.17" height="5.84" fill="#fff" stroke="#c8c8c8" stroke-width="0.45"/>
<rect x="241.46" y="143.77" width="3.17" height="58.42" fill="#000"/>
<rect x="244.63" y="129.75" width="3.17" height="72.45" fill="#cccccc" stroke="#a0a0a0" stroke-width="0.45"/>
<rect x="247.8" y="171.04" width="3.17" height="31.16" fill="url(#hat)" stroke="#222" stroke-width="0.45"/>
<rect x="250.97" y="162.86" width="3.17" height="39.34" fill="#929292" stroke="#777" stroke-width="0.45"/>
<rect x="254.14" y="172.6" width="3.17" height="29.6" fill="url(#vh)" stroke="#999" stroke-width="0.45"/>
<text transform="translate(246.15 211.2) rotate(0.03)" font-size="5" text-anchor="middle" fill="#000" stroke="#000" stroke-width="0.13">5</text>
<rect x="261.78" y="196.36" width="3.17" height="5.84" fill="#fff" stroke="#b0b0b0" stroke-width="0.45"/>
<rect x="264.95" y="196.36" width="3.17" height="5.84" fill="#fff" stroke="#c8c8c8" stroke-width="0.45"/>
<rect x="268.12" y="164.81" width="3.17" height="37.39" fill="#000"/>
<rect x="271.29" y="166.76" width="3.17" height="35.44" fill="#cccccc" stroke="#a0a0a0" stroke-width="0.45"/>
<rect x="274.46" y="188.96" width="3.17" height="13.24" fill="url(#hat)" stroke="#222" stroke-width="0.45"/>
<rect x="277.63" y="166.37" width="3.17" height="35.83" fill="#929292" stroke="#777" stroke-width="0.45"/>
<rect x="280.8" y="195.58" width="3.17" height="6.62" fill="url(#vh)" stroke="#999" stroke-width="0.45"/>
<text transform="translate(272.81 211.2) rotate(0.03)" font-size="5" text-anchor="middle" fill="#000" stroke="#000" stroke-width="0.13">6</text>
<rect x="288.44" y="183.11" width="3.17" height="19.09" fill="#fff" stroke="#b0b0b0" stroke-width="0.45"/>
<rect x="291.61" y="196.36" width="3.17" height="5.84" fill="#fff" stroke="#c8c8c8" stroke-width="0.45"/>
<rect x="294.78" y="164.42" width="3.17" height="37.78" fill="#000"/>
<rect x="297.95" y="162.47" width="3.17" height="39.73" fill="#cccccc" stroke="#a0a0a0" stroke-width="0.45"/>
<rect x="301.12" y="196.75" width="3.17" height="5.45" fill="url(#hat)" stroke="#222" stroke-width="0.45"/>
<rect x="304.29" y="168.31" width="3.17" height="33.89" fill="#929292" stroke="#777" stroke-width="0.45"/>
<rect x="307.46" y="194.8" width="3.17" height="7.4" fill="url(#vh)" stroke="#999" stroke-width="0.45"/>
<text transform="translate(299.47 211.2) rotate(0.03)" font-size="5" text-anchor="middle" fill="#000" stroke="#000" stroke-width="0.13">9</text>
<text transform="translate(246 217.11) rotate(0.03)" font-size="4.75" text-anchor="middle" font-weight="bold" fill="#000" stroke="#000" stroke-width="0.2">Patient Number</text>
<text transform="translate(164.8 164) rotate(-90)" y="1.64" font-size="4.55" text-anchor="middle" font-weight="bold" fill="#000" stroke="#000" stroke-width="0.2">Cytokine - pg/ml</text>
<rect x="182.3" y="126.2" width="45.6" height="35" fill="#fff" stroke="#a8a8a8" stroke-width="0.7"/>
<rect x="186.6" y="128.4" width="2.4" height="2.4" fill="#fff" stroke="#b0b0b0" stroke-width="0.4"/>
<text transform="translate(191 131.35) rotate(0.03)" font-size="4.85" fill="#000" stroke="#000" stroke-width="0.05">PBMC alone</text>
<rect x="186.6" y="133.22" width="2.4" height="2.4" fill="#fff" stroke="#c8c8c8" stroke-width="0.4"/>
<text transform="translate(191 136.17) rotate(0.03)" font-size="4.85" fill="#000" stroke="#000" stroke-width="0.05">Tumor alone</text>
<rect x="186.6" y="138.04" width="2.4" height="2.4" fill="#000" stroke="#000" stroke-width="0.4"/>
<text transform="translate(191 140.99) rotate(0.03)" font-size="4.85" fill="#000" stroke="#000" stroke-width="0.05">PBMC+Tumor</text>
<rect x="186.6" y="142.86" width="2.4" height="2.4" fill="#cccccc" stroke="#a0a0a0" stroke-width="0.4"/>
<text transform="translate(191 145.81) rotate(0.03)" font-size="4.85" fill="#000" stroke="#000" stroke-width="0.05">Control Ab G1</text>
<rect x="186.6" y="147.68" width="2.4" height="2.4" fill="url(#hat)" stroke="#222" stroke-width="0.4"/>
<text transform="translate(191 150.63) rotate(0.03)" font-size="4.85" fill="#000" stroke="#000" stroke-width="0.05">Anti-MHC I</text>
<rect x="186.6" y="152.5" width="2.4" height="2.4" fill="#929292" stroke="#777" stroke-width="0.4"/>
<text transform="translate(191 155.45) rotate(0.03)" font-size="4.85" fill="#000" stroke="#000" stroke-width="0.05">Control Ab G2a</text>
<rect x="186.6" y="157.32" width="2.4" height="2.4" fill="url(#vh)" stroke="#999" stroke-width="0.4"/>
<text transform="translate(191 160.27) rotate(0.03)" font-size="4.85" fill="#000" stroke="#000" stroke-width="0.05">Anti-MHC II</text>
<text transform="translate(156 217.18) rotate(0.03)" font-size="11.6" font-weight="bold" fill="#000" stroke="#000" stroke-width="0.25">F</text>
<rect x="178.1" y="223.4" width="135.7" height="72.8" fill="none" stroke="#c4c4c4" stroke-width="1"/>
<line x1="178.1" y1="296.2" x2="313.8" y2="296.2" stroke="#909090" stroke-width="1"/>
<text transform="translate(173.8 297.93) rotate(0.03)" font-size="4.8" text-anchor="end" fill="#000" stroke="#000" stroke-width="0.13">0</text>
<text transform="translate(173.8 283.37) rotate(0.03)" font-size="4.8" text-anchor="end" fill="#000" stroke="#000" stroke-width="0.13">30</text>
<text transform="translate(173.8 268.81) rotate(0.03)" font-size="4.8" text-anchor="end" fill="#000" stroke="#000" stroke-width="0.13">60</text>
<text transform="translate(173.8 254.25) rotate(0.03)" font-size="4.8" text-anchor="end" fill="#000" stroke="#000" stroke-width="0.13">90</text>
<text transform="translate(173.8 239.69) rotate(0.03)" font-size="4.8" text-anchor="end" fill="#000" stroke="#000" stroke-width="0.13">120</text>
<text transform="translate(173.8 225.13) rotate(0.03)" font-size="4.8" text-anchor="end" fill="#000" stroke="#000" stroke-width="0.13">150</text>
<rect x="185.4" y="295.23" width="10.2" height="0.97" fill="#fff" stroke="#aaa" stroke-width="0.5"/>
<line x1="190.5" y1="294.84" x2="190.5" y2="295.62" stroke="#888" stroke-width="0.5"/>
<line x1="189.5" y1="294.84" x2="191.5" y2="294.84" stroke="#888" stroke-width="0.5"/>
<line x1="189.5" y1="295.62" x2="191.5" y2="295.62" stroke="#888" stroke-width="0.5"/>
<rect x="195.6" y="238.45" width="10.2" height="57.75" fill="#000"/>
<line x1="200.7" y1="232.62" x2="200.7" y2="238.45" stroke="#666" stroke-width="0.5"/>
<line x1="199.7" y1="232.62" x2="201.7" y2="232.62" stroke="#666" stroke-width="0.5"/>
<rect x="205.8" y="292.46" width="10.2" height="3.74" fill="#fff" stroke="#999" stroke-width="0.5" stroke-dasharray="0.6 0.5"/>
<line x1="210.9" y1="291.73" x2="210.9" y2="293.19" stroke="#777" stroke-width="0.5"/>
<line x1="209.9" y1="291.73" x2="211.9" y2="291.73" stroke="#777" stroke-width="0.5"/>
<line x1="209.9" y1="293.19" x2="211.9" y2="293.19" stroke="#777" stroke-width="0.5"/>
<text transform="translate(198.8 231.58) rotate(0.03)" font-size="4" text-anchor="middle" fill="#000" stroke="#000" stroke-width="0.05">*</text>
<text transform="translate(200.72 305.5) rotate(0.03)" font-size="5" text-anchor="middle" fill="#000" stroke="#000" stroke-width="0.13">1</text>
<rect x="230.63" y="295.62" width="10.2" height="0.58" fill="#fff" stroke="#aaa" stroke-width="0.5"/>
<line x1="235.73" y1="295.33" x2="235.73" y2="295.91" stroke="#888" stroke-width="0.5"/>
<line x1="234.73" y1="295.33" x2="236.73" y2="295.33" stroke="#888" stroke-width="0.5"/>
<line x1="234.73" y1="295.91" x2="236.73" y2="295.91" stroke="#888" stroke-width="0.5"/>
<rect x="240.83" y="242.81" width="10.2" height="53.39" fill="#000"/>
<line x1="245.93" y1="237.96" x2="245.93" y2="242.81" stroke="#666" stroke-width="0.5"/>
<line x1="244.93" y1="237.96" x2="246.93" y2="237.96" stroke="#666" stroke-width="0.5"/>
<rect x="251.03" y="289.6" width="10.2" height="6.6" fill="#fff" stroke="#999" stroke-width="0.5" stroke-dasharray="0.6 0.5"/>
<line x1="256.13" y1="288.87" x2="256.13" y2="290.33" stroke="#777" stroke-width="0.5"/>
<line x1="255.13" y1="288.87" x2="257.13" y2="288.87" stroke="#777" stroke-width="0.5"/>
<line x1="255.13" y1="290.33" x2="257.13" y2="290.33" stroke="#777" stroke-width="0.5"/>
<text transform="translate(245.73 236.92) rotate(0.03)" font-size="4" text-anchor="middle" fill="#000" stroke="#000" stroke-width="0.05">*</text>
<text transform="translate(245.95 305.5) rotate(0.03)" font-size="5" text-anchor="middle" fill="#000" stroke="#000" stroke-width="0.13">5</text>
<rect x="275.87" y="295.71" width="10.2" height="0.49" fill="#fff" stroke="#aaa" stroke-width="0.5"/>
<line x1="280.97" y1="295.47" x2="280.97" y2="295.96" stroke="#888" stroke-width="0.5"/>
<line x1="279.97" y1="295.47" x2="281.97" y2="295.47" stroke="#888" stroke-width="0.5"/>
<line x1="279.97" y1="295.96" x2="281.97" y2="295.96" stroke="#888" stroke-width="0.5"/>
<rect x="286.07" y="285.77" width="10.2" height="10.43" fill="#000"/>
<text transform="translate(289.97 284.73) rotate(0.03)" font-size="4" text-anchor="middle" fill="#000" stroke="#000" stroke-width="0.05">*</text>
<text transform="translate(291.18 305.5) rotate(0.03)" font-size="5" text-anchor="middle" fill="#000" stroke="#000" stroke-width="0.13">6</text>
<text transform="translate(246 313.91) rotate(0.03)" font-size="4.75" text-anchor="middle" font-weight="bold" fill="#000" stroke="#000" stroke-width="0.2">Patient Number</text>
<text transform="translate(163.5 261) rotate(-90)" y="1.69" font-size="4.7" text-anchor="middle" font-weight="bold" fill="#000" stroke="#000" stroke-width="0.2">IFN-&#947; spots/100,000 PBMC</text>
<rect x="255.2" y="225.4" width="71.7" height="23.9" fill="#fff" stroke="#b0b0b0" stroke-width="0.7"/>
<rect x="258.8" y="228.6" width="2.4" height="2.4" fill="#fff" stroke="#888" stroke-width="0.4"/>
<text transform="translate(262.6 231.22) rotate(0.03)" font-size="3.95" fill="#000" stroke="#000" stroke-width="0.05">PBMC alone</text>
<rect x="258.7" y="236.1" width="2.5" height="2.5" fill="#000"/>
<text transform="translate(262.6 238.77) rotate(0.03)" font-size="3.95" fill="#000" stroke="#000" stroke-width="0.05">PBMC + Autologous Tumor</text>
<rect x="258.8" y="243.7" width="2.4" height="2.4" fill="#fff" stroke="#888" stroke-width="0.4"/>
<text transform="translate(262.6 246.32) rotate(0.03)" font-size="3.95" fill="#000" stroke="#000" stroke-width="0.05">PBMC + Autologous Normal B cells</text>
<text transform="translate(343.6 8.88) rotate(0.03)" font-size="11.6" font-weight="bold" fill="#000" stroke="#000" stroke-width="0.25">G</text>
<rect x="379.6" y="11.2" width="131.7" height="76.2" fill="none" stroke="#c4c4c4" stroke-width="1"/>
<line x1="379.6" y1="87.4" x2="511.3" y2="87.4" stroke="#909090" stroke-width="1"/>
<line x1="445.4" y1="11.2" x2="445.4" y2="87.4" stroke="#a8a8a8" stroke-width="1"/>
<text transform="translate(376.1 89.16) rotate(0.03)" font-size="4.9" text-anchor="end" fill="#000" stroke="#000" stroke-width="0.13">0</text>
<text transform="translate(376.1 73.92) rotate(0.03)" font-size="4.9" text-anchor="end" fill="#000" stroke="#000" stroke-width="0.13">10</text>
<text transform="translate(376.1 58.68) rotate(0.03)" font-size="4.9" text-anchor="end" fill="#000" stroke="#000" stroke-width="0.13">20</text>
<text transform="translate(376.1 43.44) rotate(0.03)" font-size="4.9" text-anchor="end" fill="#000" stroke="#000" stroke-width="0.13">30</text>
<text transform="translate(376.1 28.2) rotate(0.03)" font-size="4.9" text-anchor="end" fill="#000" stroke="#000" stroke-width="0.13">40</text>
<text transform="translate(376.1 12.96) rotate(0.03)" font-size="4.9" text-anchor="end" fill="#000" stroke="#000" stroke-width="0.13">50</text>
<rect x="386.4" y="83.89" width="9.6" height="3.51" fill="#fff" stroke="#aaa" stroke-width="0.5"/>
<line x1="391.2" y1="80.39" x2="391.2" y2="87.4" stroke="#888" stroke-width="0.5"/>
<line x1="390.2" y1="80.39" x2="392.2" y2="80.39" stroke="#888" stroke-width="0.5"/>
<line x1="390.2" y1="87.4" x2="392.2" y2="87.4" stroke="#888" stroke-width="0.5"/>
<rect x="396" y="80.08" width="9.6" height="7.32" fill="#000"/>
<line x1="400.8" y1="74.9" x2="400.8" y2="80.08" stroke="#555" stroke-width="0.5"/>
<line x1="399.8" y1="74.9" x2="401.8" y2="74.9" stroke="#555" stroke-width="0.5"/>
<text transform="translate(396.06 96.1) rotate(0.03)" font-size="5" text-anchor="middle" fill="#000" stroke="#000" stroke-width="0.13">1</text>
<rect x="419.33" y="84.66" width="9.6" height="2.74" fill="#fff" stroke="#aaa" stroke-width="0.5"/>
<line x1="424.13" y1="83.89" x2="424.13" y2="85.42" stroke="#888" stroke-width="0.5"/>
<line x1="423.13" y1="83.89" x2="425.13" y2="83.89" stroke="#888" stroke-width="0.5"/>
<line x1="423.13" y1="85.42" x2="425.13" y2="85.42" stroke="#888" stroke-width="0.5"/>
<rect x="428.93" y="85.57" width="9.6" height="1.83" fill="#000"/>
<line x1="433.73" y1="85.11" x2="433.73" y2="85.57" stroke="#555" stroke-width="0.5"/>
<line x1="432.73" y1="85.11" x2="434.73" y2="85.11" stroke="#555" stroke-width="0.5"/>
<text transform="translate(428.99 96.1) rotate(0.03)" font-size="5" text-anchor="middle" fill="#000" stroke="#000" stroke-width="0.13">6</text>
<rect x="452.25" y="81.61" width="9.6" height="5.79" fill="#fff" stroke="#aaa" stroke-width="0.5"/>
<line x1="457.05" y1="81" x2="457.05" y2="82.22" stroke="#888" stroke-width="0.5"/>
<line x1="456.05" y1="81" x2="458.05" y2="81" stroke="#888" stroke-width="0.5"/>
<line x1="456.05" y1="82.22" x2="458.05" y2="82.22" stroke="#888" stroke-width="0.5"/>
<rect x="461.85" y="62.41" width="9.6" height="24.99" fill="#000"/>
<line x1="466.65" y1="58.44" x2="466.65" y2="62.41" stroke="#555" stroke-width="0.5"/>
<line x1="465.65" y1="58.44" x2="467.65" y2="58.44" stroke="#555" stroke-width="0.5"/>
<text transform="translate(466.65 58.2) rotate(0.03)" font-size="4" text-anchor="middle" fill="#000" stroke="#000" stroke-width="0.05">*</text>
<text transform="translate(461.91 96.1) rotate(0.03)" font-size="5" text-anchor="middle" fill="#000" stroke="#000" stroke-width="0.13">1</text>
<rect x="485.18" y="85.42" width="9.6" height="1.98" fill="#fff" stroke="#aaa" stroke-width="0.5"/>
<line x1="489.98" y1="84.81" x2="489.98" y2="86.03" stroke="#888" stroke-width="0.5"/>
<line x1="488.98" y1="84.81" x2="490.98" y2="84.81" stroke="#888" stroke-width="0.5"/>
<line x1="488.98" y1="86.03" x2="490.98" y2="86.03" stroke="#888" stroke-width="0.5"/>
<rect x="494.78" y="40.61" width="9.6" height="46.79" fill="#000"/>
<line x1="499.57" y1="21.26" x2="499.57" y2="40.61" stroke="#555" stroke-width="0.5"/>
<line x1="498.57" y1="21.26" x2="500.57" y2="21.26" stroke="#555" stroke-width="0.5"/>
<text transform="translate(499.57 21.02) rotate(0.03)" font-size="4" text-anchor="middle" fill="#000" stroke="#000" stroke-width="0.05">*</text>
<text transform="translate(494.84 96.1) rotate(0.03)" font-size="5" text-anchor="middle" fill="#000" stroke="#000" stroke-width="0.13">6</text>
<text transform="translate(409.4 18.53) rotate(0.03)" font-size="4.8" text-anchor="middle" font-weight="bold" fill="#000" stroke="#000" stroke-width="0.2">Prevaccine</text>
<text transform="translate(477.7 18.53) rotate(0.03)" font-size="4.8" text-anchor="middle" font-weight="bold" fill="#000" stroke="#000" stroke-width="0.2">Postvaccine</text>
<text transform="translate(445.4 103.75) rotate(0.03)" font-size="4.85" text-anchor="middle" font-weight="bold" fill="#000" stroke="#000" stroke-width="0.2">Patient Number</text>
<text transform="translate(367.1 48.9) rotate(-90)" y="1.66" font-size="4.6" text-anchor="middle" font-weight="bold" fill="#000" stroke="#000" stroke-width="0.2">Granzyme B spots/100,000 PBMC</text>
<rect x="381.2" y="28" width="47.4" height="11.8" fill="#fff" stroke="#a8a8a8" stroke-width="0.7" stroke-dasharray="1 0.6"/>
<rect x="383.2" y="30.1" width="2.1" height="2.1" fill="#fff" stroke="#888" stroke-width="0.4"/>
<rect x="383.2" y="35.2" width="2.2" height="2.2" fill="#000"/>
<text transform="translate(386.3 32.44) rotate(0.03)" font-size="3.45" fill="#000" stroke="#000" stroke-width="0.05">PBMC alone</text>
<text transform="translate(386.3 37.54) rotate(0.03)" font-size="3.45" fill="#000" stroke="#000" stroke-width="0.05">PBMC + Autologous Tumor</text>
<text transform="translate(343.4 117.48) rotate(0.03)" font-size="11.6" font-weight="bold" fill="#000" stroke="#000" stroke-width="0.25">H</text>
<rect x="379.6" y="106.6" width="133.1" height="76.7" fill="none" stroke="#c4c4c4" stroke-width="1"/>
<line x1="379.6" y1="183.3" x2="512.7" y2="183.3" stroke="#909090" stroke-width="1"/>
<line x1="446" y1="106.6" x2="446" y2="183.3" stroke="#a8a8a8" stroke-width="1"/>
<text transform="translate(376.1 185.06) rotate(0.03)" font-size="4.9" text-anchor="end" fill="#000" stroke="#000" stroke-width="0.13">0</text>
<text transform="translate(376.1 165.89) rotate(0.03)" font-size="4.9" text-anchor="end" fill="#000" stroke="#000" stroke-width="0.13">40</text>
<text transform="translate(376.1 146.71) rotate(0.03)" font-size="4.9" text-anchor="end" fill="#000" stroke="#000" stroke-width="0.13">80</text>
<text transform="translate(376.1 127.54) rotate(0.03)" font-size="4.9" text-anchor="end" fill="#000" stroke="#000" stroke-width="0.13">120</text>
<text transform="translate(376.1 108.36) rotate(0.03)" font-size="4.9" text-anchor="end" fill="#000" stroke="#000" stroke-width="0.13">160</text>
<rect x="384.4" y="175.77" width="7.45" height="7.53" fill="#fff" stroke="#b4b4b4" stroke-width="0.5"/>
<rect x="392.15" y="175.77" width="7.15" height="7.53" fill="#000"/>
<rect x="399.3" y="175.77" width="7.45" height="7.53" fill="#f4f4f4" stroke="#aaa" stroke-width="0.5" stroke-dasharray="0.6 0.5"/>
<text transform="translate(396.24 192.09) rotate(0.03)" font-size="4.7" text-anchor="middle" fill="#000" stroke="#000" stroke-width="0.05">IFNg</text>
<rect x="417.68" y="175.77" width="7.45" height="7.53" fill="#fff" stroke="#b4b4b4" stroke-width="0.5"/>
<rect x="425.43" y="175.77" width="7.15" height="7.53" fill="#000"/>
<rect x="432.57" y="175.77" width="7.45" height="7.53" fill="#f4f4f4" stroke="#aaa" stroke-width="0.5" stroke-dasharray="0.6 0.5"/>
<text transform="translate(429.51 192.09) rotate(0.03)" font-size="4.7" text-anchor="middle" fill="#000" stroke="#000" stroke-width="0.05">GM-CSF</text>
<rect x="450.95" y="175.77" width="7.45" height="7.53" fill="#fff" stroke="#b4b4b4" stroke-width="0.5"/>
<rect x="458.7" y="155.02" width="7.15" height="28.28" fill="#000"/>
<rect x="465.85" y="175.77" width="7.45" height="7.53" fill="#f4f4f4" stroke="#aaa" stroke-width="0.5" stroke-dasharray="0.6 0.5"/>
<text transform="translate(462.23 152.58) rotate(0.03)" font-size="4" text-anchor="middle" fill="#000" stroke="#000" stroke-width="0.05">*</text>
<text transform="translate(462.79 192.09) rotate(0.03)" font-size="4.7" text-anchor="middle" fill="#000" stroke="#000" stroke-width="0.05">IFNg</text>
<rect x="484.23" y="166.04" width="7.45" height="17.26" fill="#fff" stroke="#b4b4b4" stroke-width="0.5"/>
<rect x="491.98" y="115.23" width="7.15" height="68.07" fill="#000"/>
<rect x="499.13" y="167" width="7.45" height="16.3" fill="#f4f4f4" stroke="#aaa" stroke-width="0.5" stroke-dasharray="0.6 0.5"/>
<text transform="translate(496.06 192.09) rotate(0.03)" font-size="4.7" text-anchor="middle" fill="#000" stroke="#000" stroke-width="0.05">GM-CSF</text>
<text transform="translate(494.2 112.66) rotate(0.03)" font-size="4" text-anchor="middle" fill="#000" stroke="#000" stroke-width="0.05">*</text>
<text transform="translate(409.6 114.23) rotate(0.03)" font-size="4.8" text-anchor="middle" font-weight="bold" fill="#000" stroke="#000" stroke-width="0.2">Prevaccine</text>
<text transform="translate(477.1 114.03) rotate(0.03)" font-size="4.8" text-anchor="middle" font-weight="bold" fill="#000" stroke="#000" stroke-width="0.2">Postvaccine</text>
<text transform="translate(446 199.93) rotate(0.03)" font-size="4.8" text-anchor="middle" font-weight="bold" fill="#000" stroke="#000" stroke-width="0.2">Patient 5</text>
<text transform="translate(364.4 144.6) rotate(-90)" y="1.67" font-size="4.65" text-anchor="middle" font-weight="bold" fill="#000" stroke="#000" stroke-width="0.2">Cytokine - pg/ml</text>
<rect x="382.5" y="132.7" width="49.5" height="22.1" fill="#fff" stroke="#a8a8a8" stroke-width="0.7"/>
<rect x="385" y="135.7" width="2.6" height="2.6" fill="#fff" stroke="#888" stroke-width="0.4"/>
<text transform="translate(389.1 138.73) rotate(0.03)" font-size="4.8" fill="#000" stroke="#000" stroke-width="0.05">No antigen</text>
<rect x="384.9" y="142.6" width="2.7" height="2.7" fill="#000"/>
<text transform="translate(389.1 145.63) rotate(0.03)" font-size="4.8" fill="#000" stroke="#000" stroke-width="0.05">Autologous idiotype</text>
<rect x="385" y="149.5" width="2.6" height="2.6" fill="#fff" stroke="#888" stroke-width="0.4"/>
<text transform="translate(389.1 152.53) rotate(0.03)" font-size="4.8" fill="#000" stroke="#000" stroke-width="0.05">Irrelevant idiotype</text>
<text transform="translate(343.2 213.73) rotate(0.03)" font-size="11.6" font-weight="bold" fill="#000" stroke="#000" stroke-width="0.25">I</text>
<rect x="369.4" y="202.5" width="148.8" height="80.7" fill="none" stroke="#c4c4c4" stroke-width="1"/>
<line x1="369.4" y1="283.2" x2="518.2" y2="283.2" stroke="#909090" stroke-width="1"/>
<text transform="translate(365.2 285.07) rotate(0.03)" font-size="5.2" text-anchor="end" fill="#000" stroke="#000" stroke-width="0.13">0</text>
<text transform="translate(365.2 268.93) rotate(0.03)" font-size="5.2" text-anchor="end" fill="#000" stroke="#000" stroke-width="0.13">3</text>
<text transform="translate(365.2 252.79) rotate(0.03)" font-size="5.2" text-anchor="end" fill="#000" stroke="#000" stroke-width="0.13">6</text>
<text transform="translate(365.2 236.65) rotate(0.03)" font-size="5.2" text-anchor="end" fill="#000" stroke="#000" stroke-width="0.13">9</text>
<text transform="translate(365.2 220.51) rotate(0.03)" font-size="5.2" text-anchor="end" fill="#000" stroke="#000" stroke-width="0.13">12</text>
<text transform="translate(365.2 204.37) rotate(0.03)" font-size="5.2" text-anchor="end" fill="#000" stroke="#000" stroke-width="0.13">15</text>
<polyline fill="none" stroke="#222" stroke-width="0.6" points="377.3,209.17 392.16,235.48 407.02,260.33 421.88,257.11 436.74,269.75 451.6,276.74 466.46,276.21 481.32,277.71 496.18,277.71 511.04,277.71"/>
<circle cx="377.3" cy="209.17" r="1.45" fill="#000"/>
<circle cx="392.16" cy="235.48" r="1.45" fill="#000"/>
<circle cx="407.02" cy="260.33" r="1.45" fill="#000"/>
<circle cx="421.88" cy="257.11" r="1.45" fill="#000"/>
<circle cx="436.74" cy="269.75" r="1.45" fill="#000"/>
<circle cx="451.6" cy="276.74" r="1.45" fill="#000"/>
<circle cx="466.46" cy="276.21" r="1.45" fill="#000"/>
<circle cx="481.32" cy="277.71" r="1.45" fill="#000"/>
<circle cx="496.18" cy="277.71" r="1.45" fill="#000"/>
<circle cx="511.04" cy="277.71" r="1.45" fill="#000"/>
<text transform="translate(374.5 290.7) rotate(-28.5)" y="1.62" font-size="4.5" text-anchor="end" font-weight="bold" fill="#000" stroke="#000" stroke-width="0.2">Prevaccine</text>
<text transform="translate(389.45 290.7) rotate(-28.5)" y="1.62" font-size="4.5" text-anchor="end" font-weight="bold" fill="#000" stroke="#000" stroke-width="0.2">1 mo Post 5</text>
<text transform="translate(404.4 290.7) rotate(-28.5)" y="1.62" font-size="4.5" text-anchor="end" font-weight="bold" fill="#000" stroke="#000" stroke-width="0.2">4 mo Post 5</text>
<text transform="translate(419.35 290.7) rotate(-28.5)" y="1.62" font-size="4.5" text-anchor="end" font-weight="bold" fill="#000" stroke="#000" stroke-width="0.2">7 mo Post 5</text>
<text transform="translate(434.3 290.7) rotate(-28.5)" y="1.62" font-size="4.5" text-anchor="end" font-weight="bold" fill="#000" stroke="#000" stroke-width="0.2">14 mo Post 5</text>
<text transform="translate(449.25 290.7) rotate(-28.5)" y="1.62" font-size="4.5" text-anchor="end" font-weight="bold" fill="#000" stroke="#000" stroke-width="0.2">20 mo Post 5</text>
<text transform="translate(464.2 290.7) rotate(-28.5)" y="1.62" font-size="4.5" text-anchor="end" font-weight="bold" fill="#000" stroke="#000" stroke-width="0.2">26 mo Post 5</text>
<text transform="translate(479.15 290.7) rotate(-28.5)" y="1.62" font-size="4.5" text-anchor="end" font-weight="bold" fill="#000" stroke="#000" stroke-width="0.2">32 mo Post 5</text>
<text transform="translate(494.1 290.7) rotate(-28.5)" y="1.62" font-size="4.5" text-anchor="end" font-weight="bold" fill="#000" stroke="#000" stroke-width="0.2">38 mo Post 5</text>
<text transform="translate(509.05 290.7) rotate(-28.5)" y="1.62" font-size="4.5" text-anchor="end" font-weight="bold" fill="#000" stroke="#000" stroke-width="0.2">44 mo Post 5</text>
<text transform="translate(444.9 312.52) rotate(0.03)" font-size="5.9" text-anchor="middle" font-weight="bold" fill="#000" stroke="#000" stroke-width="0.2">Patient 5 - Time Point</text>
<text transform="translate(347.4 242.5) rotate(-90)" y="2.16" font-size="6" text-anchor="middle" font-weight="bold" fill="#000" stroke="#000" stroke-width="0.2">Tumor area - cm<tspan font-size="4" dy="-2">2</tspan></text>
<text transform="translate(406.5 251.22) rotate(0.03)" font-size="5.9" text-anchor="middle" font-weight="bold" fill="#000" stroke="#000" stroke-width="0.2">PR</text>
<text transform="translate(437.2 262.22) rotate(0.03)" font-size="5.9" text-anchor="middle" font-weight="bold" fill="#000" stroke="#000" stroke-width="0.2">CRu</text>
<text transform="translate(453 266.92) rotate(0.03)" font-size="5.9" text-anchor="middle" font-weight="bold" fill="#000" stroke="#000" stroke-width="0.2">CR</text>
<text transform="translate(384 272.72) rotate(0.03)" font-size="5.9" text-anchor="middle" font-weight="bold" fill="#000" stroke="#000" stroke-width="0.2">V# 1-5</text>
<line x1="406.9" y1="253" x2="406.9" y2="256.4" stroke="#000" stroke-width="0.9"/>
<polygon points="405.6,255.6 408.2,255.6 406.9,257.6" fill="#000"/>
<line x1="437.3" y1="263.8" x2="437.3" y2="267.2" stroke="#000" stroke-width="0.9"/>
<polygon points="436,266.4 438.6,266.4 437.3,268.4" fill="#000"/>
<line x1="451.6" y1="268.6" x2="451.6" y2="273" stroke="#000" stroke-width="0.9"/>
<polygon points="450.3,272.2 452.9,272.2 451.6,274.2" fill="#000"/>
<line x1="376.4" y1="275.6" x2="376.4" y2="281.44" stroke="#888" stroke-width="0.5"/>
<polygon points="375.5,280.8 377.3,280.8 376.4,282.4" fill="#888"/>
<line x1="379.48" y1="275.6" x2="379.48" y2="281.44" stroke="#888" stroke-width="0.5"/>
<polygon points="378.58,280.8 380.38,280.8 379.48,282.4" fill="#888"/>
<line x1="382.56" y1="275.6" x2="382.56" y2="281.44" stroke="#888" stroke-width="0.5"/>
<polygon points="381.66,280.8 383.46,280.8 382.56,282.4" fill="#888"/>
<line x1="385.64" y1="275.6" x2="385.64" y2="281.44" stroke="#888" stroke-width="0.5"/>
<polygon points="384.74,280.8 386.54,280.8 385.64,282.4" fill="#888"/>
<line x1="388.72" y1="275.6" x2="388.72" y2="281.44" stroke="#888" stroke-width="0.5"/>
<polygon points="387.82,280.8 389.62,280.8 388.72,282.4" fill="#888"/>
<rect x="469.2" y="209.1" width="46.6" height="12.2" fill="#fff" stroke="#a8a8a8" stroke-width="0.7" stroke-dasharray="1 0.6"/>
<line x1="476.2" y1="215.5" x2="483" y2="215.5" stroke="#222" stroke-width="0.6"/>
<circle cx="479.6" cy="215.5" r="1.4" fill="#000"/>
<text transform="translate(485 217.26) rotate(0.03)" font-size="4.6" font-weight="bold" fill="#000" stroke="#000" stroke-width="0.2">Tumor area</text>
</g>
</svg>
</body></html>
